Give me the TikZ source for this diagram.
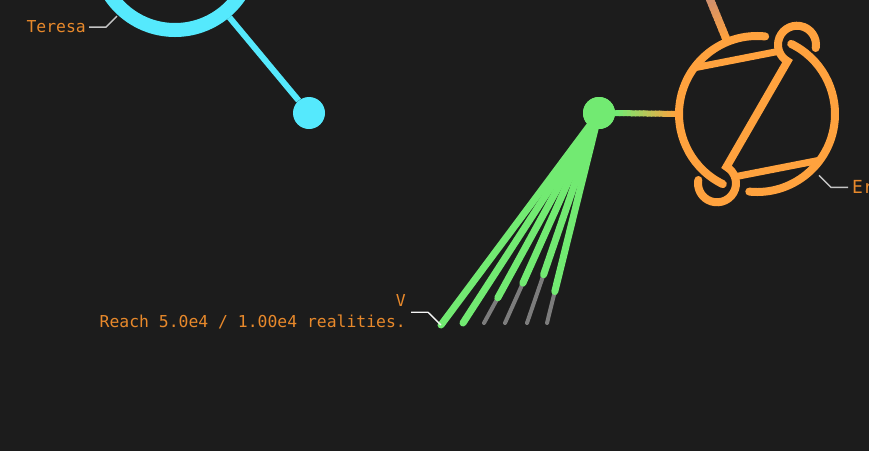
\documentclass[tikz,border=0pt]{standalone}
\usepackage{fontspec}
\newfontfamily\lblfont{DejaVu Sans Mono}
\usetikzlibrary{positioning}
\usetikzlibrary{calc}
\definecolor{bgc}{HTML}{1C1C1C}
\definecolor{tcyan}{HTML}{55E9FD}
\definecolor{vgreen}{HTML}{72EA72}
\definecolor{eorange}{HTML}{FFA23E}
\definecolor{lblorange}{HTML}{E8892B}
\definecolor{leadgray}{HTML}{C4C4C4}
\definecolor{stubgray}{HTML}{7C7C7C}
\definecolor{edgebrown}{HTML}{C48A78}

\begin{document}
\begin{tikzpicture}[x=1pt,y=-1pt,line cap=round,
    lbl/.style={font=\lblfont\fontsize{16.4}{20.7}\selectfont,text=lblorange,inner sep=0pt},
    lead/.style={draw=leadgray,line width=1.4,line cap=butt},
    dot/.style={circle,inner sep=0pt,minimum size=#1},
    glow/.style={preaction={draw=#1,opacity=.16,line width=+6pt}},
    fan/.style={draw=vgreen,line width=7},
    stub/.style={draw=stubgray,line width=4},
    ering/.style={draw=eorange,line width=8}]
  \useasboundingbox (0,0) rectangle (869,451);
  \fill[bgc] (0,0) rectangle (869,451);
  \clip (0,0) rectangle (869,451);

  % Teresa
  \node[circle,draw=tcyan,line width=14,minimum size=156,inner sep=0pt] (teresa) at (175,-48) {};
  \node[dot=32,fill=tcyan] (tdot) at (309,113) {};
  \path[draw=tcyan,line width=6,line cap=butt] (teresa) edge (tdot);
  \node[lbl,anchor=base east] (tname) at (86,32) {Teresa};
  \draw[lead] ($(tname.east)+(3,1)$) -- ++(17,0) -- ++(11,-11);

  % Er
  \node[circle,inner sep=0pt,minimum size=156] (erl) at (757,114) {};
  \coordinate (eloopa) at ($(erl.center)+(-60:80)$);
  \coordinate (eloopb) at ($(erl.center)+(120:80)$);
  \coordinate (eup) at ($(erl.center)+(247.7:135)$);
  \coordinate (ein) at ($(erl.center)+(247.7:80)$);
  \foreach \k in {0,...,13} {
    \pgfmathsetmacro\p{100-\k*100/13}
    \draw[draw=edgebrown!\p!eorange,line width=8,line cap=butt]
      ($(eup)!{\k/14}!(ein)$) -- ($(eup)!{min((\k+1.3)/14,1)}!(ein)$);
  }
  \draw[ering,glow=eorange] ($(erl.center)+(95.7:78)$) arc[start angle=95.7,end angle=-64,radius=78];
  \draw[ering,glow=eorange] ($(erl.center)+(276:78)$) arc[start angle=276,end angle=116,radius=78];
  \draw[ering,glow=eorange] ($(eloopa)+(10:19)$) arc[start angle=10,end angle=-240,radius=19]
    -- ($(eloopb)+(-60:19)$) arc[start angle=-60,end angle=190,radius=19];
  \draw[ering,line width=7,glow=eorange] ($(erl.center)+(216.3:78)$) -- ($(eloopa)+(160:19)$);
  \draw[ering,line width=7,glow=eorange] ($(erl.center)+(36.3:78)$) -- ($(eloopb)+(-20:19)$);
  \node[lbl,font=\lblfont\fontsize{18}{20}\selectfont,anchor=base west] (ename) at (852,193) {Er};
  \draw[lead] ($(ename.west)+(-4,1)$) -- ++(-17,0) -- ++(-12,-12);

  % V
  \node[dot=32,fill=vgreen] (vdot) at (599,113) {};
  \foreach \k in {0,...,15} {
    \pgfmathsetmacro\p{100-\k*100/15}
    \draw[draw=vgreen!\p!eorange,line width=6,line cap=butt]
      ($(vdot.east)!{\k/16}!(erl.west)$) -- ($(vdot.east)!{(\k+1.3)/16}!(erl.west)$);
  }
  \foreach \ex/\ey/\t [count=\i] in {441/325/1,463/323/1,484/323/.88,505/323/.81,527/323/.77,547/323/.85} {
    \coordinate (f\i) at (\ex,\ey);
    \draw[stub] ($(vdot.center)!\t!(f\i)$) -- (f\i);
    \draw[fan,glow=vgreen] (vdot.center) -- ($(vdot.center)!\t!(f\i)$);
  }
  \node[dot=32,fill=vgreen] at (vdot) {};
  \node[lbl,anchor=base east] (reach) at (406,327) {Reach 5.0e4 / 1.00e4 realities.};
  \node[lbl,anchor=base east] (vname) at (406,306) {V};
  \draw[lead,draw=white!92!gray] ($(reach.north east)+(5,-2)$) -- ++(17,0) -- (f1);
\end{tikzpicture}
\end{document}
